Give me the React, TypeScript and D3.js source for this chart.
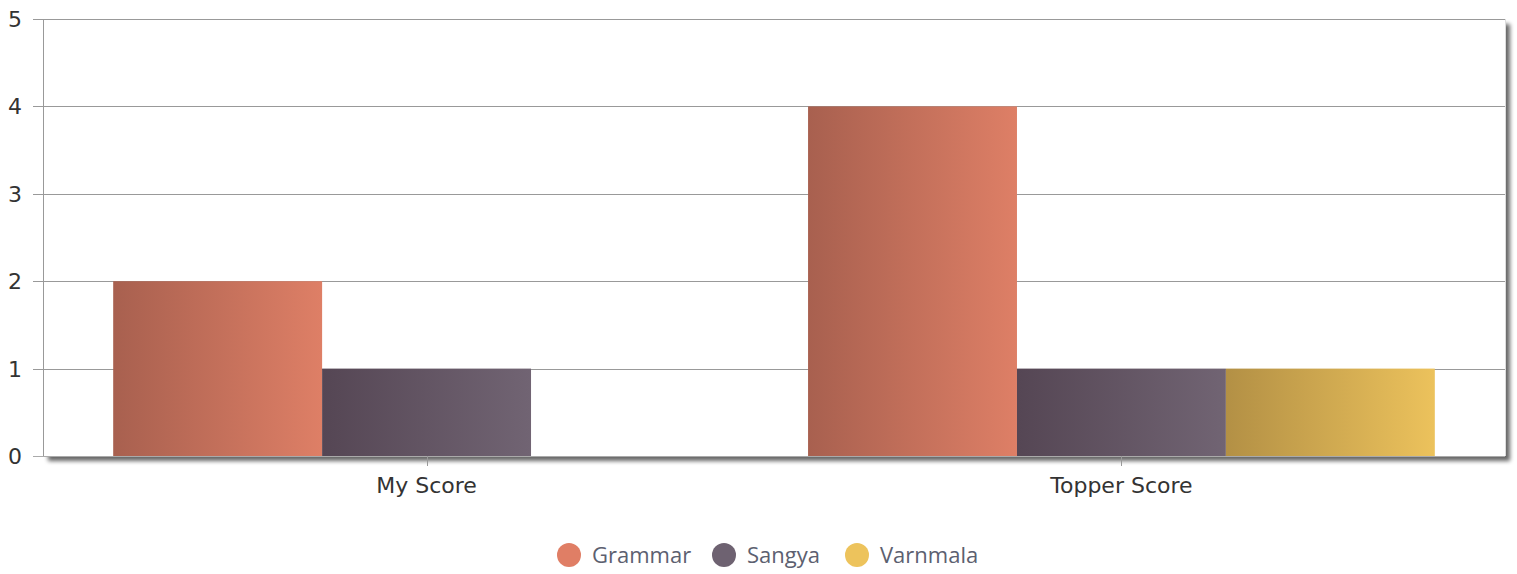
import React from "react";
import * as d3 from "d3";

const categories = ["My Score", "Topper Score"];
const seriesNames = ["Grammar", "Sangya", "Varnmala"];
const grammarValues = [2, 4];
const sangyaValues = [1, 1];
const varnmalaValues = [0, 1];
const yTicks = [0, 1, 2, 3, 4, 5];
const seriesColors = ["#e07e65", "#6e6271", "#edc35c"];
const gradientStops = [
  ["#a8604f", "#de7f66"],
  ["#554654", "#716473"],
  ["#b39045", "#ecc25c"],
];

const W = 1517;
const H = 574;
const left = 43;
const right = 1505;
const top = 19;
const bottom = 456;

export default function App() {
  const values = [grammarValues, sangyaValues, varnmalaValues];
  const x = d3.scaleBand<string>().domain(categories).range([left, right]).paddingInner(0).paddingOuter(0.052);
  const inner = d3
    .scaleBand<string>()
    .domain(seriesNames)
    .range([0, x.bandwidth()])
    .paddingOuter(0.163)
    .paddingInner(0);
  const y = d3.scaleLinear().domain([0, 5]).range([bottom, top]);

  const legendX = [569, 724, 857];

  return (
    <svg width={W} height={H} style={{ position: "absolute", left: 0, top: 0 }}>
      <defs>
        {gradientStops.map((s, i) => (
          <linearGradient key={i} id={`g${i}`} x1="0" x2="1" y1="0" y2="0">
            <stop offset="0" stopColor={s[0]} />
            <stop offset="1" stopColor={s[1]} />
          </linearGradient>
        ))}
        <filter id="shadow" x="-5%" y="-5%" width="110%" height="115%">
          <feGaussianBlur in="SourceAlpha" stdDeviation="2.2" />
          <feOffset dx="5" dy="5" result="ob" />
          <feComponentTransfer>
            <feFuncA type="linear" slope="0.6" />
          </feComponentTransfer>
          <feMerge>
            <feMergeNode />
            <feMergeNode in="SourceGraphic" />
          </feMerge>
        </filter>
      </defs>
      <rect x={0} y={0} width={W} height={H} fill="#fff" />
      <rect
        x={left}
        y={top}
        width={right - left}
        height={bottom - top}
        fill="#fff"
        filter="url(#shadow)"
      />
      <line x1={right + 0.5} x2={right + 0.5} y1={top} y2={bottom} stroke="#ddd" />
      {yTicks.map((t) => (
        <g key={t}>
          <line
            x1={left - 10}
            x2={right}
            y1={Math.round(y(t)) + 0.5}
            y2={Math.round(y(t)) + 0.5}
            stroke={t === 0 ? "#aaa" : "#999"}
          />
          <text
            x={22}
            y={y(t) + 8}
            textAnchor="end"
            fontFamily="DejaVu Sans, Verdana, sans-serif"
            fontSize={22}
            fill="#333"
          >
            {t}
          </text>
        </g>
      ))}
      <line x1={left + 0.5} x2={left + 0.5} y1={top} y2={bottom} stroke="#999" />
      {categories.map((c, ci) => (
        <g key={c}>
          {seriesNames.map((s, si) => {
            const v = values[si][ci];
            if (!v) return null;
            const x0 = (x(c) as number) + (inner(s) as number);
            return (
              <rect
                key={s}
                x={x0}
                y={y(v)}
                width={inner.bandwidth()}
                height={y(0) - y(v)}
                fill={`url(#g${si})`}
              />
            );
          })}
          <line
            x1={Math.round((x(c) as number) + x.bandwidth() / 2) + 0.5}
            x2={Math.round((x(c) as number) + x.bandwidth() / 2) + 0.5}
            y1={bottom}
            y2={bottom + 10}
            stroke="#999"
          />
          <text
            x={(x(c) as number) + x.bandwidth() / 2}
            y={493}
            textAnchor="middle"
            fontFamily="DejaVu Sans, Verdana, sans-serif"
            fontSize={22}
            fill="#333"
          >
            {c}
          </text>
        </g>
      ))}
      {seriesNames.map((s, i) => (
        <g key={s}>
          <circle cx={legendX[i]} cy={555} r={12} fill={seriesColors[i]} />
          <text
            x={legendX[i] + 23}
            y={563}
            fontFamily="Open Sans, Noto Sans, sans-serif"
            fontSize={22}
            fill="#5c6070"
          >
            {s}
          </text>
        </g>
      ))}
    </svg>
  );
}
